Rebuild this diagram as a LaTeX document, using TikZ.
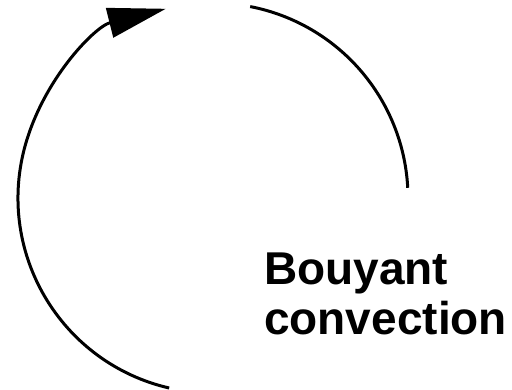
\documentclass[tikz,border=0pt]{standalone}
\usepackage{fontspec}
\setmainfont{Liberation Sans}
\usetikzlibrary{arrows.meta}
\begin{document}
\begin{tikzpicture}[x=1pt,y=1pt,
  flow/.style={line width=3pt,black},
  lbl/.style={font=\fontsize{46}{50}\selectfont\bfseries,anchor=base west,inner sep=0pt}]
\useasboundingbox (0,0) rectangle (512,390);
\coordinate (c) at (213,192);
\path (c) ++(257:195) coordinate (l0);
\path (c) ++(79:195) coordinate (r0);
\draw[flow,-{Triangle[length=58pt,width=30pt]}] (l0) arc[start angle=257,end angle=104,radius=195];
\draw[flow] (r0) arc[start angle=79,end angle=3,radius=195];
\node[lbl] (t1) at (264,105) {Bouyant};
\node[lbl] (t2) at (264,55) {convection};
\end{tikzpicture}
\end{document}
